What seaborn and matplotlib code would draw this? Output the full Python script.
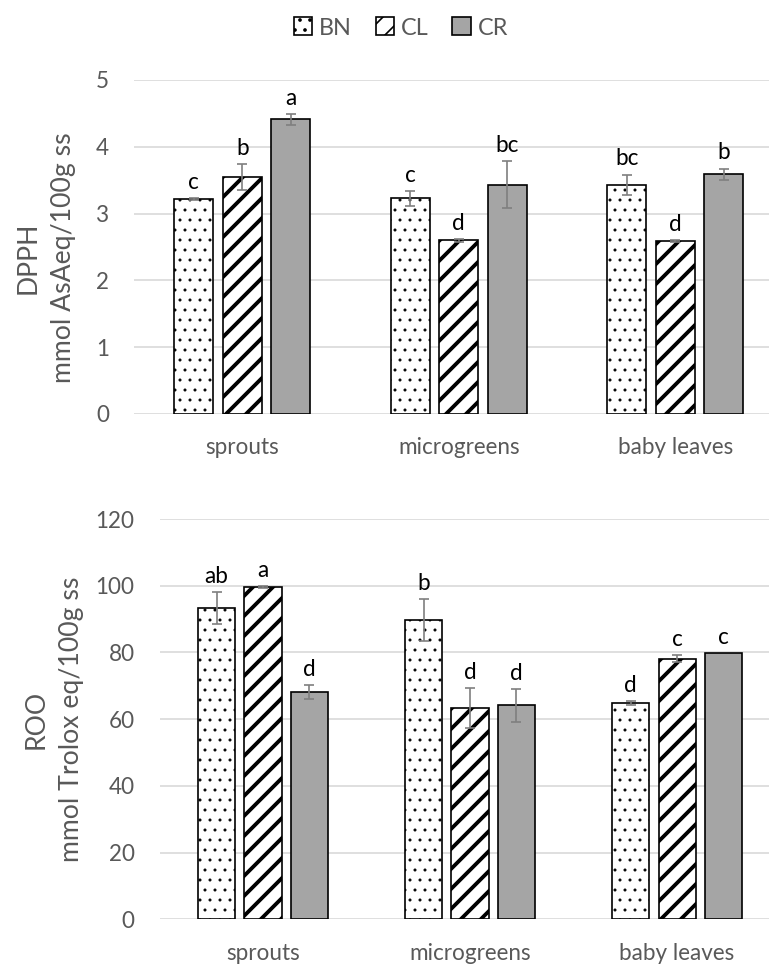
import numpy as np
import pandas as pd
import matplotlib
matplotlib.use("Agg")
import matplotlib.pyplot as plt
import seaborn as sns
from matplotlib.patches import Patch
from matplotlib.container import BarContainer

# ---------------- data ----------------
categories = ["sprouts", "microgreens", "baby leaves"]
groups = ["BN", "CL", "CR"]

dpph_bn = [3.22, 3.23, 3.43]
dpph_cl = [3.55, 2.60, 2.59]
dpph_cr = [4.41, 3.43, 3.59]
dpph_bn_err = [0.01, 0.11, 0.155]
dpph_cl_err = [0.19, 0.02, 0.01]
dpph_cr_err = [0.08, 0.35, 0.085]
dpph_bn_let = ["c", "c", "bc"]
dpph_cl_let = ["b", "d", "d"]
dpph_cr_let = ["a", "bc", "b"]

roo_bn = [93.3, 89.8, 64.8]
roo_cl = [99.5, 63.3, 78.1]
roo_cr = [68.0, 64.1, 79.7]
roo_bn_err = [4.85, 6.25, 0.5]
roo_cl_err = [0.3, 6.0, 1.0]
roo_cr_err = [2.1, 4.85, 0.0]
roo_bn_let = ["ab", "b", "d"]
roo_cl_let = ["a", "d", "c"]
roo_cr_let = ["d", "d", "c"]

dpph_ticks = [0, 1, 2, 3, 4, 5]
roo_ticks = [0, 20, 40, 60, 80, 100, 120]

# ---------------- style ----------------
sns.set_theme(style="white")
plt.rcParams["font.family"] = ["Lato", "DejaVu Sans"]

GRAY_TXT = "#595959"
GRID = "#d9d9d9"
CR_FILL = "#a5a5a5"
ERR_C = "#7f7f7f"
hatches = ["..", "//", ""]
hatch_lws = [0.6, 2.3, 1.0]
palette = {"BN": "white", "CL": "white", "CR": CR_FILL}

DPI = 120
W, H = 769, 967
fig = plt.figure(figsize=(W / DPI, H / DPI), dpi=DPI)
fig.patch.set_facecolor("white")


def make_df(vals):
    rows = []
    for g, arr in zip(groups, vals):
        for c, v in zip(categories, arr):
            rows.append({"category": c, "group": g, "value": v})
    return pd.DataFrame(rows)


def panel(ax, vals, errs, lets, ticks, ylabel, xhi, label_xc, label_yc):
    df = make_df(vals)
    sns.barplot(data=df, x="category", y="value", hue="group",
                order=categories, hue_order=groups, palette=palette,
                width=0.672, gap=0.2, errorbar=None, legend=False,
                edgecolor="black", linewidth=1.0, ax=ax)
    conts = [c for c in ax.containers if isinstance(c, BarContainer)]
    for gi, cont in enumerate(conts):
        bars = sorted(cont.patches, key=lambda p: p.get_x())
        for bar, v, e, lab in zip(bars, vals[gi], errs[gi], lets[gi]):
            h = hatches[gi]
            if h:
                bar.set_hatch(h)
                if hasattr(bar, "set_hatch_linewidth"):
                    bar.set_hatch_linewidth(hatch_lws[gi])
            cx = bar.get_x() + bar.get_width() / 2
            if e > 0:
                ax.errorbar(cx, v, yerr=e, fmt="none", ecolor=ERR_C,
                            elinewidth=1.0, capsize=3.2, capthick=1.0,
                            zorder=5)
            ax.annotate(lab, (cx, v + e), xytext=(0, 5.5),
                        textcoords="offset points", ha="center",
                        va="baseline", fontsize=13.5, color="black")
    ax.set_xlim(-0.5, xhi)
    ax.set_ylim(ticks[0], ticks[-1])
    ax.set_yticks(ticks)
    ax.set_yticklabels([str(t) for t in ticks])
    ax.grid(axis="y", color=GRID, linewidth=1.0)
    ax.grid(axis="x", visible=False)
    ax.set_axisbelow(True)
    for s in ax.spines.values():
        s.set_visible(False)
    ax.tick_params(axis="both", length=0, labelcolor=GRAY_TXT,
                   labelsize=13.5)
    ax.tick_params(axis="y", pad=15)
    ax.tick_params(axis="x", pad=14)
    ax.set_xlabel("")
    ax.set_ylabel("")
    fig.text(label_xc / W, 1 - label_yc / H, ylabel, rotation=90,
             ha="center", va="center", multialignment="center",
             fontsize=16, color=GRAY_TXT, linespacing=1.5)


ax1 = fig.add_axes([134 / W, (H - 414) / H, (W - 134) / W, 334 / H])
ax2 = fig.add_axes([159.5 / W, (H - 919.3) / H, (W - 159.5) / W, 400.3 / H])

panel(ax1, [dpph_bn, dpph_cl, dpph_cr],
      [dpph_bn_err, dpph_cl_err, dpph_cr_err],
      [dpph_bn_let, dpph_cl_let, dpph_cr_let],
      dpph_ticks, "DPPH\nmmol AsAeq/100g ss", 2.433, 46, 258)
panel(ax2, [roo_bn, roo_cl, roo_cr],
      [roo_bn_err, roo_cl_err, roo_cr_err],
      [roo_bn_let, roo_cl_let, roo_cr_let],
      roo_ticks, "ROO\nmmol Trolox eq/100g ss", 2.444, 54, 719)

handles = [Patch(facecolor="white", edgecolor="black", hatch="..", label="BN"),
           Patch(facecolor="white", edgecolor="black", hatch="//", label="CL"),
           Patch(facecolor=CR_FILL, edgecolor="black", label="CR")]
leg = fig.legend(handles=handles, loc="center", ncol=3,
                 bbox_to_anchor=(401 / W, 1 - 28 / H), frameon=False,
                 fontsize=14, handlelength=0.8, handleheight=0.8,
                 handletextpad=0.3, columnspacing=1.0)
for t in leg.get_texts():
    t.set_color(GRAY_TXT)

fig.savefig("out.png", dpi=DPI, facecolor="white")
